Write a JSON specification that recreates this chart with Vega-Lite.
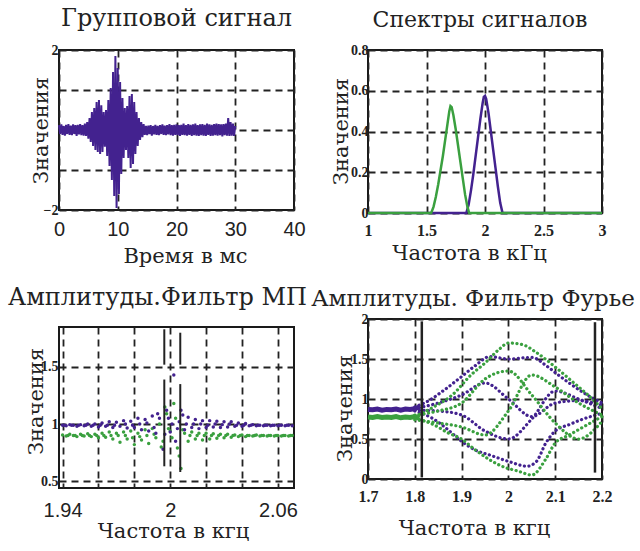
{
"$schema": "https://vega.github.io/schema/vega-lite/v6.json",
"background": "white",
"padding": {"left": 7, "top": 6, "right": 0, "bottom": 5},
"config": {
  "view": {"stroke": "#1a1a1a", "strokeWidth": 2},
  "axis": {"grid": true, "gridColor": "#222", "gridDash": [7, 5], "gridWidth": 1.8, "gridOpacity": 1, "domain": false, "ticks": false, "labelColor": "#222", "titleColor": "#222", "titleFont": "DejaVu Serif", "titleFontWeight": "normal", "titleFontSize": 21, "labelFlush": false, "labelOverlap": false, "format": "~r"},
  "axisX": {"titleAlign": "center", "titleBaseline": "alphabetic", "titleAnchor": null},
  "axisY": {"titleAngle": 270, "titleAlign": "center", "titleBaseline": "alphabetic"},
  "title": {"font": "DejaVu Serif", "fontSize": 24, "fontWeight": "normal", "color": "#222", "frame": "group", "anchor": "middle", "baseline": "alphabetic"}
},
"datasets": {
  "sig": [
    {"t":0,"v":0.12},{"t":0.2,"v":-0.1},{"t":0.4,"v":0.14},{"t":0.6,"v":-0.12},{"t":0.8,"v":0.1},{"t":1.0,"v":-0.14},{"t":1.2,"v":0.13},{"t":1.4,"v":-0.1},{"t":1.6,"v":0.15},{"t":1.8,"v":-0.12},
    {"t":2.0,"v":0.11},{"t":2.2,"v":-0.13},{"t":2.4,"v":0.14},{"t":2.6,"v":-0.1},{"t":2.8,"v":0.12},{"t":3.0,"v":-0.15},{"t":3.2,"v":0.13},{"t":3.4,"v":-0.11},{"t":3.6,"v":0.15},{"t":3.8,"v":-0.13},
    {"t":4.0,"v":0.12},{"t":4.2,"v":-0.14},{"t":4.4,"v":0.16},{"t":4.6,"v":-0.15},{"t":4.8,"v":0.2},{"t":5.0,"v":-0.22},{"t":5.2,"v":0.3},{"t":5.4,"v":-0.3},{"t":5.6,"v":0.45},{"t":5.8,"v":-0.4},
    {"t":6.0,"v":0.55},{"t":6.2,"v":-0.5},{"t":6.4,"v":0.7},{"t":6.6,"v":-0.55},{"t":6.8,"v":0.75},{"t":7.0,"v":-0.6},{"t":7.2,"v":0.62},{"t":7.4,"v":-0.55},{"t":7.6,"v":0.45},{"t":7.8,"v":-0.42},
    {"t":8.0,"v":0.5},{"t":8.2,"v":-0.65},{"t":8.4,"v":0.75},{"t":8.6,"v":-0.9},{"t":8.8,"v":1.05},{"t":9.0,"v":-1.25},{"t":9.2,"v":1.45},{"t":9.4,"v":-1.65},{"t":9.6,"v":1.85},{"t":9.8,"v":-1.95},
    {"t":10.0,"v":1.55},{"t":10.2,"v":-1.6},{"t":10.4,"v":1.2},{"t":10.6,"v":-1.1},{"t":10.8,"v":0.8},{"t":11.0,"v":-0.7},{"t":11.2,"v":0.55},{"t":11.4,"v":-0.5},{"t":11.6,"v":0.6},{"t":11.8,"v":-0.7},
    {"t":12.0,"v":0.85},{"t":12.2,"v":-0.95},{"t":12.4,"v":0.9},{"t":12.6,"v":-0.85},{"t":12.8,"v":0.7},{"t":13.0,"v":-0.6},{"t":13.2,"v":0.45},{"t":13.4,"v":-0.4},{"t":13.6,"v":0.3},{"t":13.8,"v":-0.25},
    {"t":14.0,"v":0.2},{"t":14.2,"v":-0.18},{"t":14.4,"v":0.15},{"t":14.6,"v":-0.12},{"t":14.8,"v":0.1},{"t":15.0,"v":-0.13},{"t":15.2,"v":0.11},{"t":15.4,"v":-0.1},{"t":15.6,"v":0.12},{"t":15.8,"v":-0.14},
    {"t":16.0,"v":0.1},{"t":16.2,"v":-0.11},{"t":16.4,"v":0.13},{"t":16.6,"v":-0.12},{"t":16.8,"v":0.1},{"t":17.0,"v":-0.13},{"t":17.2,"v":0.12},{"t":17.4,"v":-0.1},{"t":17.6,"v":0.14},{"t":17.8,"v":-0.12},
    {"t":18.0,"v":0.11},{"t":18.2,"v":-0.13},{"t":18.4,"v":0.12},{"t":18.6,"v":-0.11},{"t":18.8,"v":0.15},{"t":19.0,"v":-0.13},{"t":19.2,"v":0.12},{"t":19.4,"v":-0.14},{"t":19.6,"v":0.13},{"t":19.8,"v":-0.12},
    {"t":20.0,"v":0.14},{"t":20.2,"v":-0.13},{"t":20.4,"v":0.12},{"t":20.6,"v":-0.15},{"t":20.8,"v":0.13},{"t":21.0,"v":-0.12},{"t":21.2,"v":0.16},{"t":21.4,"v":-0.13},{"t":21.6,"v":0.12},{"t":21.8,"v":-0.14},
    {"t":22.0,"v":0.15},{"t":22.2,"v":-0.12},{"t":22.4,"v":0.13},{"t":22.6,"v":-0.15},{"t":22.8,"v":0.14},{"t":23.0,"v":-0.13},{"t":23.2,"v":0.16},{"t":23.4,"v":-0.14},{"t":23.6,"v":0.12},{"t":23.8,"v":-0.15},
    {"t":24.0,"v":0.14},{"t":24.2,"v":-0.13},{"t":24.4,"v":0.15},{"t":24.6,"v":-0.14},{"t":24.8,"v":0.13},{"t":25.0,"v":-0.15},{"t":25.2,"v":0.16},{"t":25.4,"v":-0.12},{"t":25.6,"v":0.14},{"t":25.8,"v":-0.15},
    {"t":26.0,"v":0.13},{"t":26.2,"v":-0.14},{"t":26.4,"v":0.15},{"t":26.6,"v":-0.13},{"t":26.8,"v":0.16},{"t":27.0,"v":-0.14},{"t":27.2,"v":0.15},{"t":27.4,"v":-0.13},{"t":27.6,"v":0.14},{"t":27.8,"v":-0.16},
    {"t":28.0,"v":0.15},{"t":28.2,"v":-0.13},{"t":28.4,"v":0.16},{"t":28.6,"v":-0.14},{"t":28.8,"v":0.3},{"t":29.0,"v":-0.15},{"t":29.2,"v":0.2},{"t":29.4,"v":-0.14},{"t":29.6,"v":0.16},{"t":29.8,"v":-0.15},
    {"t":30.0,"v":0.1}
  ],
  "spec": [
    {"f":1.0,"a":0,"s":"P"},{"f":1.84,"a":0,"s":"P"},{"f":1.86,"a":0.04,"s":"P"},{"f":1.88,"a":0.11,"s":"P"},{"f":1.9,"a":0.19,"s":"P"},{"f":1.92,"a":0.28,"s":"P"},{"f":1.94,"a":0.37,"s":"P"},{"f":1.96,"a":0.46,"s":"P"},{"f":1.98,"a":0.54,"s":"P"},{"f":1.99,"a":0.57,"s":"P"},{"f":2.0,"a":0.575,"s":"P"},{"f":2.01,"a":0.56,"s":"P"},{"f":2.03,"a":0.49,"s":"P"},{"f":2.05,"a":0.4,"s":"P"},{"f":2.07,"a":0.31,"s":"P"},{"f":2.09,"a":0.22,"s":"P"},{"f":2.11,"a":0.13,"s":"P"},{"f":2.13,"a":0.05,"s":"P"},{"f":2.15,"a":0,"s":"P"},{"f":3.0,"a":0,"s":"P"},
    {"f":1.0,"a":0,"s":"G"},{"f":1.54,"a":0,"s":"G"},{"f":1.56,"a":0.03,"s":"G"},{"f":1.58,"a":0.08,"s":"G"},{"f":1.6,"a":0.14,"s":"G"},{"f":1.62,"a":0.21,"s":"G"},{"f":1.64,"a":0.28,"s":"G"},{"f":1.66,"a":0.36,"s":"G"},{"f":1.68,"a":0.44,"s":"G"},{"f":1.695,"a":0.5,"s":"G"},{"f":1.705,"a":0.525,"s":"G"},{"f":1.715,"a":0.52,"s":"G"},{"f":1.73,"a":0.48,"s":"G"},{"f":1.75,"a":0.41,"s":"G"},{"f":1.77,"a":0.33,"s":"G"},{"f":1.79,"a":0.25,"s":"G"},{"f":1.81,"a":0.17,"s":"G"},{"f":1.83,"a":0.09,"s":"G"},{"f":1.85,"a":0.03,"s":"G"},{"f":1.865,"a":0,"s":"G"},{"f":3.0,"a":0,"s":"G"}
  ],
  "mp": [
    {"x":1.940,"y":0.905,"s":"G"},{"x":1.942,"y":0.895,"s":"G"},{"x":1.944,"y":0.91,"s":"G"},{"x":1.946,"y":0.9,"s":"G"},{"x":1.948,"y":0.89,"s":"G"},{"x":1.950,"y":0.91,"s":"G"},{"x":1.952,"y":0.895,"s":"G"},{"x":1.954,"y":0.915,"s":"G"},{"x":1.956,"y":0.89,"s":"G"},{"x":1.958,"y":0.91,"s":"G"},
    {"x":1.960,"y":0.88,"s":"G"},{"x":1.962,"y":0.92,"s":"G"},{"x":1.964,"y":0.885,"s":"G"},{"x":1.966,"y":0.93,"s":"G"},{"x":1.968,"y":0.87,"s":"G"},{"x":1.970,"y":0.92,"s":"G"},{"x":1.972,"y":0.84,"s":"G"},{"x":1.974,"y":0.93,"s":"G"},{"x":1.976,"y":0.87,"s":"G"},{"x":1.978,"y":0.94,"s":"G"},
    {"x":1.980,"y":0.82,"s":"G"},{"x":1.982,"y":0.92,"s":"G"},{"x":1.984,"y":0.86,"s":"G"},{"x":1.986,"y":0.95,"s":"G"},{"x":1.988,"y":0.83,"s":"G"},{"x":1.990,"y":0.96,"s":"G"},{"x":1.992,"y":0.88,"s":"G"},{"x":1.994,"y":1.0,"s":"G"},{"x":1.996,"y":0.85,"s":"G"},{"x":1.998,"y":1.09,"s":"G"},
    {"x":2.000,"y":0.94,"s":"G"},{"x":2.002,"y":1.18,"s":"G"},{"x":2.004,"y":0.79,"s":"G"},{"x":2.006,"y":0.61,"s":"G"},{"x":2.008,"y":0.92,"s":"G"},{"x":2.010,"y":0.85,"s":"G"},{"x":2.012,"y":0.93,"s":"G"},{"x":2.014,"y":0.87,"s":"G"},{"x":2.016,"y":0.92,"s":"G"},{"x":2.018,"y":0.86,"s":"G"},
    {"x":2.020,"y":0.92,"s":"G"},{"x":2.022,"y":0.87,"s":"G"},{"x":2.024,"y":0.915,"s":"G"},{"x":2.026,"y":0.875,"s":"G"},{"x":2.028,"y":0.91,"s":"G"},{"x":2.030,"y":0.88,"s":"G"},{"x":2.032,"y":0.91,"s":"G"},{"x":2.034,"y":0.885,"s":"G"},{"x":2.036,"y":0.905,"s":"G"},{"x":2.038,"y":0.89,"s":"G"},
    {"x":2.040,"y":0.905,"s":"G"},{"x":2.042,"y":0.89,"s":"G"},{"x":2.044,"y":0.9,"s":"G"},{"x":2.046,"y":0.895,"s":"G"},{"x":2.048,"y":0.905,"s":"G"},{"x":2.050,"y":0.895,"s":"G"},{"x":2.052,"y":0.9,"s":"G"},{"x":2.054,"y":0.895,"s":"G"},{"x":2.056,"y":0.9,"s":"G"},{"x":2.058,"y":0.895,"s":"G"},
    {"x":2.060,"y":0.9,"s":"G"},{"x":2.062,"y":0.895,"s":"G"},{"x":2.064,"y":0.9,"s":"G"},{"x":2.066,"y":0.895,"s":"G"},{"x":2.068,"y":0.9,"s":"G"},
    {"x":1.943,"y":0.9,"s":"G"},{"x":1.947,"y":0.9,"s":"G"},{"x":1.951,"y":0.9,"s":"G"},{"x":1.955,"y":0.9,"s":"G"},{"x":1.959,"y":0.9,"s":"G"},{"x":1.963,"y":0.9,"s":"G"},{"x":1.967,"y":0.9,"s":"G"},{"x":1.971,"y":0.9,"s":"G"},{"x":1.975,"y":0.9,"s":"G"},{"x":1.979,"y":0.88,"s":"G"},
    {"x":1.983,"y":0.89,"s":"G"},{"x":1.987,"y":0.9,"s":"G"},{"x":1.991,"y":0.91,"s":"G"},{"x":1.995,"y":0.8,"s":"G"},{"x":1.997,"y":1.15,"s":"G"},{"x":1.999,"y":0.96,"s":"G"},{"x":2.001,"y":0.88,"s":"G"},{"x":2.003,"y":1.05,"s":"G"},{"x":2.005,"y":0.72,"s":"G"},{"x":2.007,"y":0.95,"s":"G"},
    {"x":2.011,"y":0.9,"s":"G"},{"x":2.015,"y":0.9,"s":"G"},{"x":2.019,"y":0.9,"s":"G"},{"x":2.023,"y":0.9,"s":"G"},{"x":2.027,"y":0.9,"s":"G"},{"x":2.031,"y":0.9,"s":"G"},{"x":2.035,"y":0.9,"s":"G"},{"x":2.039,"y":0.9,"s":"G"},{"x":2.043,"y":0.9,"s":"G"},{"x":2.047,"y":0.9,"s":"G"},
    {"x":2.051,"y":0.9,"s":"G"},{"x":2.055,"y":0.9,"s":"G"},{"x":2.059,"y":0.9,"s":"G"},{"x":2.063,"y":0.9,"s":"G"},{"x":2.067,"y":0.9,"s":"G"},
    {"x":1.940,"y":0.99,"s":"P"},{"x":1.942,"y":0.985,"s":"P"},{"x":1.944,"y":0.995,"s":"P"},{"x":1.946,"y":0.99,"s":"P"},{"x":1.948,"y":0.98,"s":"P"},{"x":1.950,"y":0.995,"s":"P"},{"x":1.952,"y":0.985,"s":"P"},{"x":1.954,"y":1.0,"s":"P"},{"x":1.956,"y":0.98,"s":"P"},{"x":1.958,"y":1.0,"s":"P"},
    {"x":1.960,"y":0.975,"s":"P"},{"x":1.962,"y":1.01,"s":"P"},{"x":1.964,"y":0.98,"s":"P"},{"x":1.966,"y":1.02,"s":"P"},{"x":1.968,"y":0.97,"s":"P"},{"x":1.970,"y":1.015,"s":"P"},{"x":1.972,"y":0.98,"s":"P"},{"x":1.974,"y":1.03,"s":"P"},{"x":1.976,"y":0.965,"s":"P"},{"x":1.978,"y":1.025,"s":"P"},
    {"x":1.980,"y":0.97,"s":"P"},{"x":1.982,"y":1.05,"s":"P"},{"x":1.984,"y":0.95,"s":"P"},{"x":1.986,"y":1.04,"s":"P"},{"x":1.988,"y":0.94,"s":"P"},{"x":1.990,"y":1.07,"s":"P"},{"x":1.992,"y":0.92,"s":"P"},{"x":1.994,"y":1.05,"s":"P"},{"x":1.996,"y":0.78,"s":"P"},{"x":1.998,"y":1.12,"s":"P"},
    {"x":2.000,"y":0.93,"s":"P"},{"x":2.002,"y":1.43,"s":"P"},{"x":2.004,"y":0.96,"s":"P"},{"x":2.006,"y":1.12,"s":"P"},{"x":2.008,"y":0.95,"s":"P"},{"x":2.010,"y":1.06,"s":"P"},{"x":2.012,"y":0.97,"s":"P"},{"x":2.014,"y":1.04,"s":"P"},{"x":2.016,"y":0.96,"s":"P"},{"x":2.018,"y":1.03,"s":"P"},
    {"x":2.020,"y":0.97,"s":"P"},{"x":2.022,"y":1.03,"s":"P"},{"x":2.024,"y":0.975,"s":"P"},{"x":2.026,"y":1.025,"s":"P"},{"x":2.028,"y":0.97,"s":"P"},{"x":2.030,"y":1.02,"s":"P"},{"x":2.032,"y":0.975,"s":"P"},{"x":2.034,"y":1.02,"s":"P"},{"x":2.036,"y":0.98,"s":"P"},{"x":2.038,"y":1.01,"s":"P"},
    {"x":2.040,"y":0.98,"s":"P"},{"x":2.042,"y":1.005,"s":"P"},{"x":2.044,"y":0.985,"s":"P"},{"x":2.046,"y":0.995,"s":"P"},{"x":2.048,"y":0.985,"s":"P"},{"x":2.050,"y":0.99,"s":"P"},{"x":2.052,"y":0.985,"s":"P"},{"x":2.054,"y":0.99,"s":"P"},{"x":2.056,"y":0.985,"s":"P"},{"x":2.058,"y":0.99,"s":"P"},
    {"x":2.060,"y":0.985,"s":"P"},{"x":2.062,"y":0.99,"s":"P"},{"x":2.064,"y":0.985,"s":"P"},{"x":2.066,"y":0.99,"s":"P"},{"x":2.068,"y":0.985,"s":"P"},
    {"x":1.941,"y":0.99,"s":"P"},{"x":1.945,"y":0.99,"s":"P"},{"x":1.949,"y":0.99,"s":"P"},{"x":1.953,"y":0.99,"s":"P"},{"x":1.957,"y":0.99,"s":"P"},{"x":1.961,"y":0.99,"s":"P"},{"x":1.965,"y":0.99,"s":"P"},{"x":1.969,"y":0.99,"s":"P"},{"x":1.975,"y":1.0,"s":"P"},{"x":1.979,"y":0.99,"s":"P"},
    {"x":1.983,"y":1.0,"s":"P"},{"x":1.987,"y":1.01,"s":"P"},{"x":1.991,"y":0.97,"s":"P"},{"x":1.993,"y":1.09,"s":"P"},{"x":1.997,"y":0.91,"s":"P"},{"x":1.999,"y":1.05,"s":"P"},{"x":2.001,"y":1.0,"s":"P"},{"x":2.003,"y":0.85,"s":"P"},{"x":2.005,"y":1.02,"s":"P"},{"x":2.007,"y":1.08,"s":"P"},
    {"x":2.009,"y":1.0,"s":"P"},{"x":2.013,"y":1.0,"s":"P"},{"x":2.017,"y":1.0,"s":"P"},{"x":2.021,"y":0.99,"s":"P"},{"x":2.025,"y":1.0,"s":"P"},{"x":2.029,"y":0.995,"s":"P"},{"x":2.033,"y":1.0,"s":"P"},{"x":2.037,"y":0.99,"s":"P"},{"x":2.041,"y":0.99,"s":"P"},{"x":2.045,"y":0.99,"s":"P"},
    {"x":2.049,"y":0.99,"s":"P"},{"x":2.053,"y":0.99,"s":"P"},{"x":2.057,"y":0.99,"s":"P"},{"x":2.061,"y":0.99,"s":"P"},{"x":2.065,"y":0.99,"s":"P"}
  ],
  "mpRules": [
    {"x":1.9967,"y":1.83,"y2":1.52},{"x":1.9967,"y":1.39,"y2":0.63},
    {"x":2.0056,"y":1.80,"y2":1.52},{"x":2.0056,"y":1.35,"y2":0.58}
  ],
  "fb": [
    {"x":1.70,"y":0.87,"s":"P"},{"x":1.71,"y":0.865,"s":"P"},{"x":1.72,"y":0.875,"s":"P"},{"x":1.73,"y":0.86,"s":"P"},{"x":1.74,"y":0.87,"s":"P"},{"x":1.75,"y":0.865,"s":"P"},{"x":1.76,"y":0.875,"s":"P"},{"x":1.77,"y":0.86,"s":"P"},{"x":1.78,"y":0.875,"s":"P"},{"x":1.79,"y":0.87,"s":"P"},{"x":1.80,"y":0.88,"s":"P"},{"x":1.81,"y":0.9,"s":"P"},
    {"x":1.70,"y":0.775,"s":"G"},{"x":1.71,"y":0.77,"s":"G"},{"x":1.72,"y":0.78,"s":"G"},{"x":1.73,"y":0.77,"s":"G"},{"x":1.74,"y":0.775,"s":"G"},{"x":1.75,"y":0.77,"s":"G"},{"x":1.76,"y":0.78,"s":"G"},{"x":1.77,"y":0.765,"s":"G"},{"x":1.78,"y":0.775,"s":"G"},{"x":1.79,"y":0.77,"s":"G"},{"x":1.80,"y":0.78,"s":"G"},{"x":1.81,"y":0.76,"s":"G"}
  ],
  "fc": [
    {"x":1.8,"y":0.9,"c":"P1","s":"P"},{"x":1.83,"y":0.98,"c":"P1","s":"P"},{"x":1.86,"y":1.1,"c":"P1","s":"P"},{"x":1.9,"y":1.28,"c":"P1","s":"P"},{"x":1.93,"y":1.42,"c":"P1","s":"P"},{"x":1.96,"y":1.53,"c":"P1","s":"P"},{"x":2.0,"y":1.5,"c":"P1","s":"P"},{"x":2.05,"y":1.52,"c":"P1","s":"P"},{"x":2.08,"y":1.42,"c":"P1","s":"P"},{"x":2.1,"y":1.33,"c":"P1","s":"P"},{"x":2.13,"y":1.2,"c":"P1","s":"P"},{"x":2.16,"y":1.08,"c":"P1","s":"P"},{"x":2.2,"y":0.95,"c":"P1","s":"P"},
    {"x":1.8,"y":0.85,"c":"P2","s":"P"},{"x":1.84,"y":0.75,"c":"P2","s":"P"},{"x":1.87,"y":0.62,"c":"P2","s":"P"},{"x":1.9,"y":0.47,"c":"P2","s":"P"},{"x":1.93,"y":0.36,"c":"P2","s":"P"},{"x":1.96,"y":0.3,"c":"P2","s":"P"},{"x":2.0,"y":0.22,"c":"P2","s":"P"},{"x":2.04,"y":0.16,"c":"P2","s":"P"},{"x":2.06,"y":0.22,"c":"P2","s":"P"},{"x":2.08,"y":0.45,"c":"P2","s":"P"},{"x":2.1,"y":0.6,"c":"P2","s":"P"},{"x":2.13,"y":0.68,"c":"P2","s":"P"},{"x":2.16,"y":0.75,"c":"P2","s":"P"},{"x":2.2,"y":0.82,"c":"P2","s":"P"},
    {"x":1.8,"y":0.88,"c":"P3","s":"P"},{"x":1.85,"y":0.95,"c":"P3","s":"P"},{"x":1.9,"y":1.05,"c":"P3","s":"P"},{"x":1.95,"y":1.2,"c":"P3","s":"P"},{"x":2.0,"y":1.0,"c":"P3","s":"P"},{"x":2.05,"y":0.78,"c":"P3","s":"P"},{"x":2.1,"y":0.95,"c":"P3","s":"P"},{"x":2.15,"y":0.98,"c":"P3","s":"P"},{"x":2.2,"y":0.92,"c":"P3","s":"P"},
    {"x":1.8,"y":0.86,"c":"P4","s":"P"},{"x":1.85,"y":0.85,"c":"P4","s":"P"},{"x":1.9,"y":0.8,"c":"P4","s":"P"},{"x":1.95,"y":0.6,"c":"P4","s":"P"},{"x":2.0,"y":0.5,"c":"P4","s":"P"},{"x":2.05,"y":0.75,"c":"P4","s":"P"},{"x":2.1,"y":1.1,"c":"P4","s":"P"},{"x":2.15,"y":1.0,"c":"P4","s":"P"},{"x":2.2,"y":0.88,"c":"P4","s":"P"},
    {"x":1.8,"y":0.78,"c":"G1","s":"G"},{"x":1.84,"y":0.9,"c":"G1","s":"G"},{"x":1.88,"y":1.05,"c":"G1","s":"G"},{"x":1.92,"y":1.3,"c":"G1","s":"G"},{"x":1.95,"y":1.45,"c":"G1","s":"G"},{"x":1.98,"y":1.62,"c":"G1","s":"G"},{"x":2.0,"y":1.7,"c":"G1","s":"G"},{"x":2.03,"y":1.68,"c":"G1","s":"G"},{"x":2.06,"y":1.58,"c":"G1","s":"G"},{"x":2.1,"y":1.4,"c":"G1","s":"G"},{"x":2.14,"y":1.2,"c":"G1","s":"G"},{"x":2.17,"y":1.05,"c":"G1","s":"G"},{"x":2.2,"y":0.88,"c":"G1","s":"G"},
    {"x":1.8,"y":0.76,"c":"G2","s":"G"},{"x":1.84,"y":0.68,"c":"G2","s":"G"},{"x":1.87,"y":0.58,"c":"G2","s":"G"},{"x":1.9,"y":0.5,"c":"G2","s":"G"},{"x":1.93,"y":0.36,"c":"G2","s":"G"},{"x":1.96,"y":0.24,"c":"G2","s":"G"},{"x":1.99,"y":0.15,"c":"G2","s":"G"},{"x":2.02,"y":0.1,"c":"G2","s":"G"},{"x":2.05,"y":0.05,"c":"G2","s":"G"},{"x":2.08,"y":0.25,"c":"G2","s":"G"},{"x":2.1,"y":0.45,"c":"G2","s":"G"},{"x":2.13,"y":0.55,"c":"G2","s":"G"},{"x":2.16,"y":0.65,"c":"G2","s":"G"},{"x":2.2,"y":0.78,"c":"G2","s":"G"},
    {"x":1.8,"y":0.8,"c":"G3","s":"G"},{"x":1.85,"y":0.85,"c":"G3","s":"G"},{"x":1.9,"y":0.95,"c":"G3","s":"G"},{"x":1.95,"y":1.25,"c":"G3","s":"G"},{"x":2.0,"y":1.35,"c":"G3","s":"G"},{"x":2.05,"y":1.05,"c":"G3","s":"G"},{"x":2.1,"y":0.7,"c":"G3","s":"G"},{"x":2.15,"y":0.5,"c":"G3","s":"G"},{"x":2.2,"y":0.72,"c":"G3","s":"G"},
    {"x":1.8,"y":0.74,"c":"G4","s":"G"},{"x":1.85,"y":0.7,"c":"G4","s":"G"},{"x":1.9,"y":0.65,"c":"G4","s":"G"},{"x":1.95,"y":0.55,"c":"G4","s":"G"},{"x":2.0,"y":0.85,"c":"G4","s":"G"},{"x":2.05,"y":1.3,"c":"G4","s":"G"},{"x":2.1,"y":1.15,"c":"G4","s":"G"},{"x":2.15,"y":0.95,"c":"G4","s":"G"},{"x":2.2,"y":0.8,"c":"G4","s":"G"}
  ],
  "fRules": [
    {"x":1.815,"y":0.02,"y2":1.97},{"x":2.185,"y":0.08,"y2":1.96}
  ]
},
"hconcat": [
  {
    "spacing": 117,
    "bounds": "flush",
    "vconcat": [
      {
        "width": 235, "height": 160,
        "title": {"text": "Групповой сигнал", "offset": 12},
        "data": {"name": "sig"},
        "mark": {"type": "line", "color": "#43228f", "strokeWidth": 2},
        "encoding": {
          "x": {"field": "t", "type": "quantitative", "scale": {"domain": [0, 40], "nice": false},
                "axis": {"values": [0, 10, 20, 30, 40], "title": "Время в мс", "labelFont": "Liberation Sans", "labelFontSize": 20, "labelPadding": 9, "titleX": 126, "titleY": 52}},
          "y": {"field": "v", "type": "quantitative", "scale": {"domain": [-2, 2], "nice": false},
                "axis": {"values": [-2, -1, 0, 1, 2], "labelExpr": "datum.value == 2 || datum.value == -2 ? datum.label : ''", "title": "Значения", "labelFont": "Liberation Serif", "labelFontWeight": "bold", "labelFontSize": 14, "labelPadding": 1, "titleX": -12, "titleY": 80}}
        }
      },
      {
        "width": 235, "height": 161,
        "title": {"text": "Амплитуды.Фильтр МП", "offset": 17, "dx": -19},
        "encoding": {
          "x": {"field": "x", "type": "quantitative", "scale": {"domain": [1.938, 2.069], "nice": false, "zero": false},
                "axis": {"values": [1.94, 1.96, 1.98, 2, 2.02, 2.04, 2.06], "labelExpr": "datum.value == 1.94 || datum.value == 2 || datum.value == 2.06 ? datum.label : ''", "title": "Частота в кгц", "labelFont": "Liberation Sans", "labelFontSize": 20, "labelPadding": 12, "titleX": 114, "titleY": 49}},
          "y": {"field": "y", "type": "quantitative", "scale": {"domain": [0.44, 1.85], "nice": false, "zero": false},
                "axis": {"values": [0.5, 1, 1.5], "title": "Значения", "labelFont": "Liberation Serif", "labelFontWeight": "bold", "labelFontSize": 14, "labelPadding": 1, "titleX": -17, "titleY": 74}}
        },
        "layer": [
          {"data": {"name": "mp"}, "mark": {"type": "point", "filled": true, "size": 12, "opacity": 1},
           "encoding": {"color": {"field": "s", "type": "nominal", "scale": {"domain": ["P", "G"], "range": ["#43228f", "#3aa03f"]}, "legend": null}}},
          {"data": {"name": "mpRules"}, "mark": {"type": "rule", "color": "#222", "strokeWidth": 2},
           "encoding": {"y2": {"field": "y2"}}}
        ]
      }
    ]
  },
  {
    "spacing": 106,
    "bounds": "flush",
    "vconcat": [
      {
        "width": 234, "height": 163,
        "title": {"text": "Спектры сигналов", "offset": 11, "dx": -5, "fontSize": 22},
        "data": {"name": "spec"},
        "encoding": {
          "x": {"field": "f", "type": "quantitative", "scale": {"domain": [1, 3], "nice": false, "zero": false},
                "axis": {"values": [1, 1.5, 2, 2.5, 3], "title": "Частота в кГц", "labelFont": "Liberation Serif", "labelFontWeight": "bold", "labelFontSize": 16, "labelPadding": 9, "titleX": 101, "titleY": 46}},
          "y": {"field": "a", "type": "quantitative", "scale": {"domain": [0, 0.8], "nice": false},
                "axis": {"values": [0, 0.2, 0.4, 0.6, 0.8], "title": "Значения", "labelFont": "Liberation Serif", "labelFontWeight": "bold", "labelFontSize": 14, "labelPadding": 0, "titleX": -21, "titleY": 81}}
        },
        "layer": [
          {"transform": [{"filter": "datum.s == 'P'"}], "mark": {"type": "line", "color": "#43228f", "strokeWidth": 2.5}},
          {"transform": [{"filter": "datum.s == 'G'"}], "mark": {"type": "line", "color": "#3aa03f", "strokeWidth": 2.5}}
        ]
      },
      {
        "width": 234, "height": 160,
        "title": {"text": "Амплитуды. Фильтр Фурье", "offset": 1, "dx": -12, "fontSize": 23},
        "encoding": {
          "x": {"field": "x", "type": "quantitative", "scale": {"domain": [1.7, 2.2], "nice": false, "zero": false},
                "axis": {"values": [1.7, 1.8, 1.9, 2, 2.1, 2.2], "title": "Частота в кгц", "labelFont": "Liberation Serif", "labelFontWeight": "bold", "labelFontSize": 16, "labelPadding": 9, "titleX": 106, "titleY": 55}},
          "y": {"field": "y", "type": "quantitative", "scale": {"domain": [0, 2], "nice": false},
                "axis": {"values": [0, 0.5, 1, 1.5, 2], "title": "Значения", "labelFont": "Liberation Serif", "labelFontWeight": "bold", "labelFontSize": 14, "labelPadding": 0, "titleX": -17, "titleY": 89}}
        },
        "layer": [
          {"data": {"name": "fb"}, "mark": {"type": "line", "strokeWidth": 5},
           "encoding": {"color": {"field": "s", "type": "nominal", "scale": {"domain": ["P", "G"], "range": ["#43228f", "#3aa03f"]}, "legend": null}}},
          {"data": {"name": "fc"}, "mark": {"type": "line", "strokeWidth": 3.2, "strokeDash": [0.1, 4.5], "strokeCap": "round", "interpolate": "monotone"},
           "encoding": {"color": {"field": "s", "type": "nominal", "scale": {"domain": ["P", "G"], "range": ["#43228f", "#3aa03f"]}, "legend": null}, "detail": {"field": "c"}}},
          {"data": {"name": "fRules"}, "mark": {"type": "rule", "color": "#222", "strokeWidth": 2.5},
           "encoding": {"y2": {"field": "y2"}}}
        ]
      }
    ]
  }
],
"spacing": 2
}
